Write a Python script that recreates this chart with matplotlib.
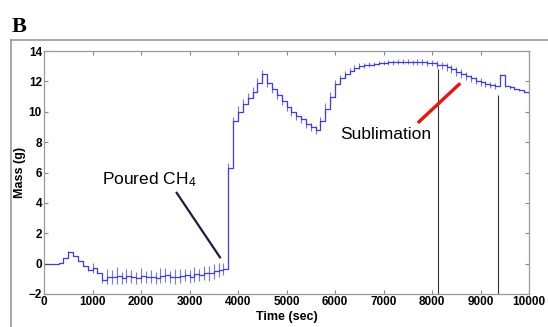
import numpy as np
import matplotlib
matplotlib.use("Agg")
from matplotlib import pyplot as plt
from matplotlib.lines import Line2D

# mass readings, one every 100 s
time_s = np.arange(0, 10001, 100)
mass_g = [0.0, 0.0, -0.05, 0.05, 0.35, 0.75, 0.5, 0.15, -0.15, -0.4,
          -0.3, -0.6, -1.05, -0.85, -0.9, -0.8, -0.95, -0.8, -0.85, -0.95,
          -0.8, -0.9, -0.85, -0.95, -0.8, -0.75, -0.9, -0.85, -0.8, -0.75,
          -0.85, -0.7, -0.75, -0.6, -0.65, -0.5, -0.4, -0.35, 6.3, 9.4,
          10.0, 10.5, 10.9, 11.3, 11.9, 12.5, 11.9, 11.5, 11.1, 10.7,
          10.3, 10.0, 9.7, 9.5, 9.2, 9.0, 8.8, 9.4, 10.2, 11.0,
          11.8, 12.2, 12.5, 12.7, 12.9, 13.0, 13.05, 13.1, 13.15, 13.2,
          13.2, 13.25, 13.25, 13.3, 13.3, 13.3, 13.25, 13.3, 13.25, 13.2,
          13.2, 13.1, 13.05, 12.95, 12.8, 12.65, 12.5, 12.35, 12.2, 12.05,
          11.95, 11.85, 11.75, 11.7, 12.4, 11.7, 11.6, 11.5, 11.4, 11.3,
          11.2]
# half range of the scatter within each reading
spread_g = [0, 0, 0, 0, 0, 0.05, 0, 0, 0, 0.1,
            0.35, 0.1, 0.2, 0.5, 0.45, 0.55, 0.4, 0.45, 0.45, 0.4,
            0.5, 0.4, 0.45, 0.4, 0.5, 0.45, 0.4, 0.5, 0.45, 0.4,
            0.45, 0.5, 0.4, 0.45, 0.5, 0.5, 0.45, 0.4, 0.35, 0.25,
            0.35, 0.35, 0.35, 0.3, 0.35, 0.25, 0.3, 0.25, 0.25, 0.25,
            0.25, 0.25, 0.25, 0.25, 0.25, 0.25, 0.25, 0.25, 0.35, 0.3,
            0.3, 0.25, 0.2, 0.2, 0.2, 0.2, 0.15, 0.15, 0.15, 0.15,
            0.15, 0.15, 0.15, 0.15, 0.15, 0.15, 0.15, 0.2, 0.2, 0.2,
            0.2, 0.25, 0.25, 0.25, 0.25, 0.3, 0.3, 0.25, 0.25, 0.25,
            0.25, 0.2, 0.2, 0.2, 0.1, 0.1, 0.1, 0.05, 0.05, 0.05,
            0]

marker_times = [8130, 9360]
marker_tops = [12.8, 11.1]

pour_text = (1200, 5.5)
pour_line_x = [2736, 3629]
pour_line_y = [4.66, 0.41]
sub_text = (7052, 8.5)
sub_line_x = [7732, 8557]
sub_line_y = [9.34, 11.8]

plt.rcParams['font.family'] = ['Liberation Sans', 'DejaVu Sans']
plt.rcParams['mathtext.default'] = 'regular'

fig = plt.figure(figsize=(5.48, 3.27), dpi=100)
# outer panel frame (only top and left edges are visible)
fx, fy = 11 / 548, 1 - 40 / 327
fig.lines.append(Line2D([fx, 1.0], [fy, fy], transform=fig.transFigure,
                        color='#9a9a9a', linewidth=1.2))
fig.lines.append(Line2D([fx, fx], [0.0, fy], transform=fig.transFigure,
                        color='#9a9a9a', linewidth=1.2))
fig.text(12 / 548, 1 - 32 / 327, 'B', family=['Liberation Serif'],
         fontweight='bold', fontsize=16)

ax = fig.add_axes([44 / 548, 1 - 294 / 327, 485 / 548, 243 / 327])

lo = [m - s for m, s in zip(mass_g, spread_g)]
hi = [m + s for m, s in zip(mass_g, spread_g)]
ax.vlines(time_s, lo, hi, color='#5a5aff', linewidth=0.8, alpha=0.85)
ax.plot(time_s, mass_g, drawstyle='steps-post', color='#3a3aff', linewidth=0.9)

ax.vlines(marker_times, -2, marker_tops, color='#333333', linewidth=0.8)

ax.plot(pour_line_x, pour_line_y, color='#1c1c3c', linewidth=1.6)
ax.text(pour_text[0], pour_text[1], 'Poured CH$_4$', fontsize=12.5,
        ha='left', va='center')
ax.plot(sub_line_x, sub_line_y, color='#ee1111', linewidth=2.4)
ax.text(sub_text[0], sub_text[1], 'Sublimation', fontsize=12.5,
        ha='center', va='center')

ax.set_xlim(0, 10000)
ax.set_ylim(-2, 14)
ax.set_xticks(np.arange(0, 10001, 1000))
ax.set_yticks(np.arange(-2, 15, 2))
ax.tick_params(direction='in', top=True, right=True, length=3,
               color='#888888', labelsize=8.5, pad=1.5)
for lab in ax.get_xticklabels() + ax.get_yticklabels():
    lab.set_fontweight('bold')
for sp in ax.spines.values():
    sp.set_color('#999999')
    sp.set_linewidth(0.9)

ax.set_xlabel('Time (sec)', fontweight='bold', fontsize=9, labelpad=2)
ax.set_ylabel('Mass (g)', fontweight='bold', fontsize=9, labelpad=2)

fig.savefig('out.png', dpi=100)
